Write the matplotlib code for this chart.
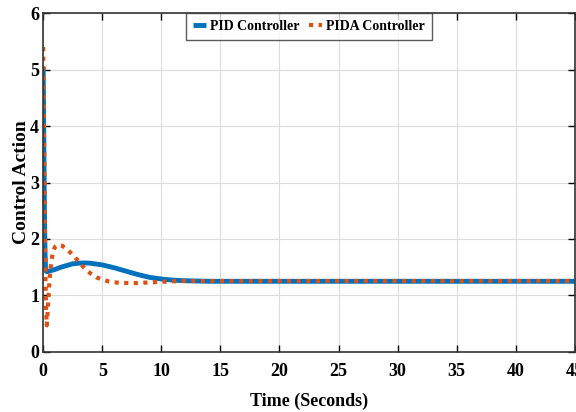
import matplotlib
matplotlib.use('Agg')
import matplotlib.pyplot as plt

# Time axis samples (seconds) and controller outputs
pid_t = [0, 0.05, 0.1, 0.15, 0.2, 0.3, 0.5, 1.0, 1.5, 2.0, 2.5, 3.0, 3.5,
         4.0, 5.0, 6.0, 7.0, 8.0, 9.0, 10.0, 11.0, 12.0, 13.0, 14.0, 15.0,
         20.0, 30.0, 45.0]
pid_u = [5.05, 3.8, 2.6, 1.8, 1.45, 1.42, 1.43, 1.46, 1.50, 1.53, 1.56, 1.57,
         1.575, 1.57, 1.54, 1.49, 1.43, 1.37, 1.32, 1.29, 1.27, 1.26, 1.255,
         1.25, 1.25, 1.25, 1.25, 1.25]

pida_t = [0, 0.05, 0.1, 0.15, 0.2, 0.25, 0.3, 0.35, 0.45, 0.6, 0.8, 1.0, 1.3,
          1.6, 2.0, 2.5, 3.0, 3.5, 4.0, 4.5, 5.0, 5.5, 6.0, 7.0, 8.0, 9.0,
          10.0, 11.0, 12.0, 14.0, 20.0, 45.0]
pida_u = [5.4, 4.2, 3.0, 2.0, 1.2, 0.7, 0.47, 0.6, 1.0, 1.45, 1.75, 1.86, 1.90,
          1.88, 1.82, 1.72, 1.60, 1.48, 1.39, 1.32, 1.28, 1.25, 1.23, 1.22,
          1.22, 1.23, 1.24, 1.25, 1.255, 1.255, 1.255, 1.255]

x_ticks = list(range(0, 50, 5))
y_ticks = list(range(0, 7))

plt.rcParams['font.family'] = ['Liberation Serif', 'DejaVu Serif']
plt.rcParams['font.weight'] = 'bold'

fig = plt.figure(figsize=(5.76, 4.12), dpi=100)
ax = fig.add_axes([0.075, 0.146, 0.923, 0.822])

ax.plot(pid_t, pid_u, color='#0072BD', lw=3.5, label='PID Controller',
        solid_capstyle='butt')
ax.plot(pida_t, pida_u, color='#D95319', lw=3, linestyle=(0, (1, 1.3)),
        label='PIDA Controller')

ax.set_xlim(0, 45)
ax.set_ylim(0, 6)
ax.set_xticks(x_ticks)
ax.set_yticks(y_ticks)
ax.grid(True, color='#dcdcdc', lw=0.8)
ax.tick_params(direction='in', top=True, right=True, length=5, width=1,
               labelsize=13)
ax.tick_params(axis='x', pad=8)
ax.tick_params(axis='y', pad=3)
for lab in ax.get_xticklabels() + ax.get_yticklabels():
    lab.set_fontweight('bold')
for sp in ax.spines.values():
    sp.set_linewidth(1.2)
    sp.set_color('#333333')

ax.set_xlabel('Time (Seconds)', fontsize=13, fontweight='bold', labelpad=9)
ax.set_ylabel('Control Action', fontsize=14, fontweight='bold', labelpad=0)

leg = ax.legend(loc='upper center', ncol=2, fontsize=10, frameon=True,
                fancybox=False, borderaxespad=0, handlelength=0.9,
                handletextpad=0.3, columnspacing=0.7, borderpad=0.5,
                edgecolor='#333333', bbox_to_anchor=(0.5, 1.0))
leg.get_frame().set_linewidth(1.0)

fig.savefig('out.png', dpi=100)
